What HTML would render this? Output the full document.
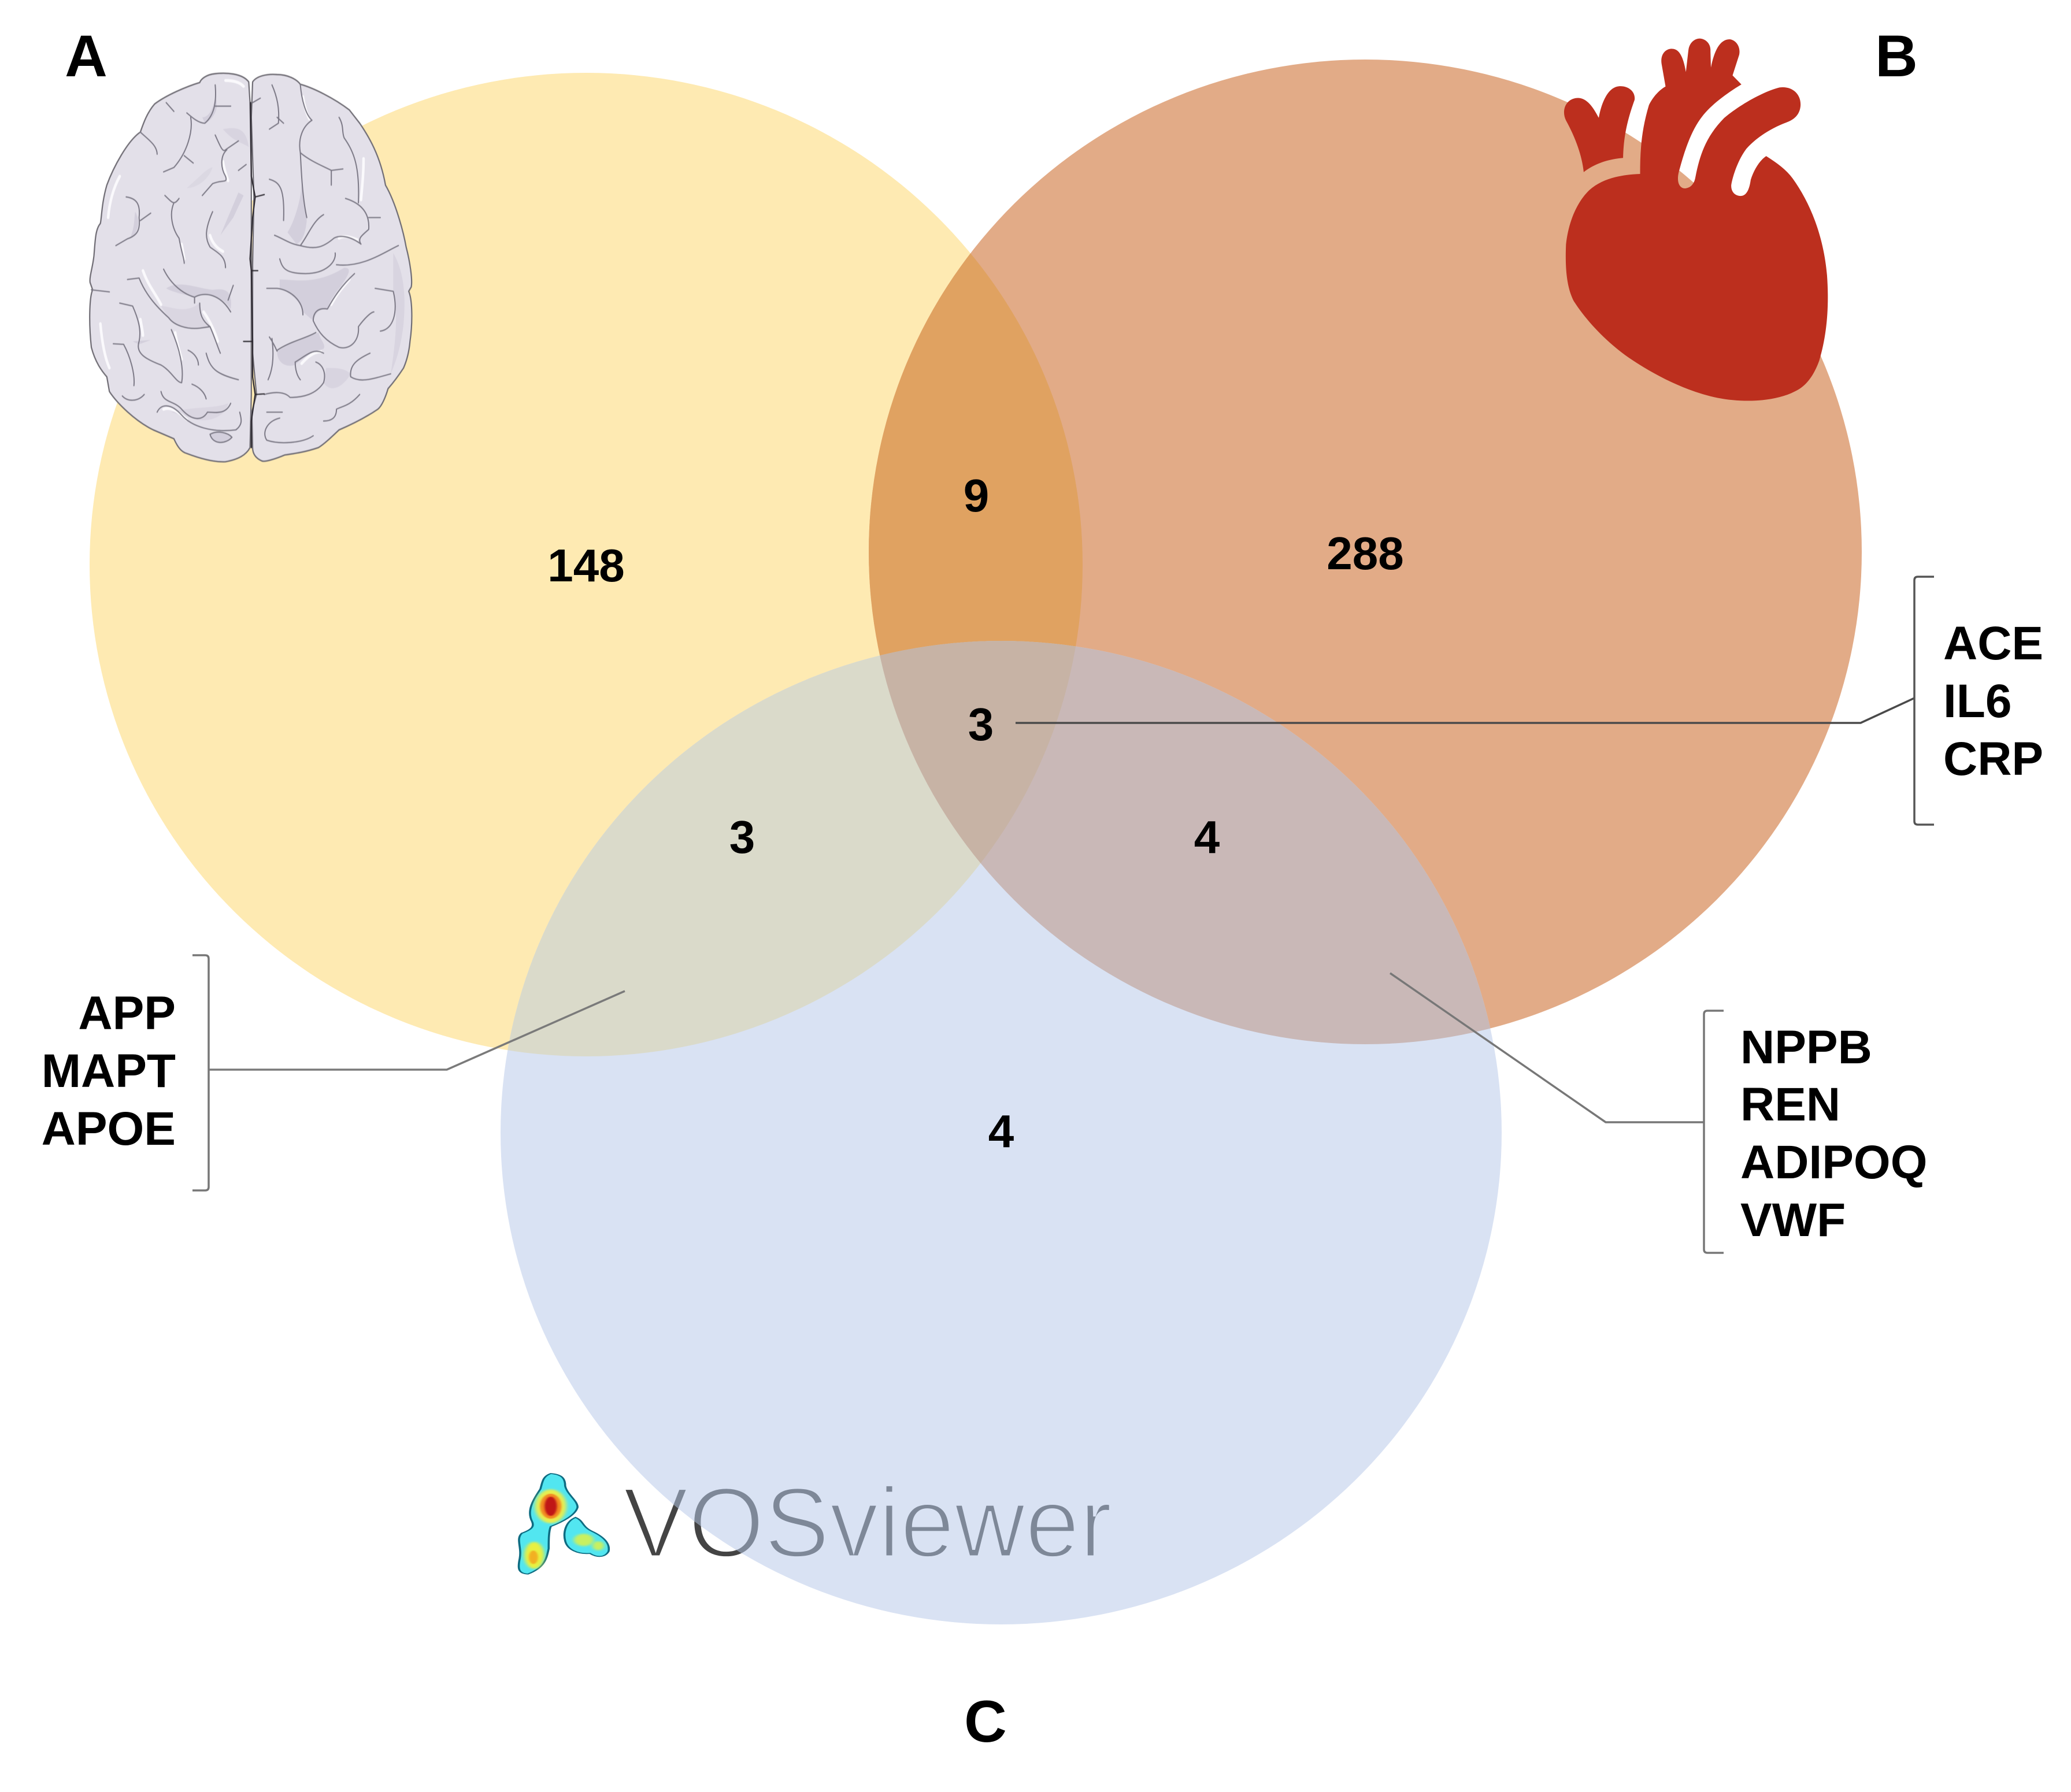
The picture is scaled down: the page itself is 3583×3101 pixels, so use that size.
<!DOCTYPE html>
<html><head><meta charset="utf-8"><style>
html,body{margin:0;padding:0;background:#fff}
svg{display:block}
text{font-family:"Liberation Sans",Arial,sans-serif}
.n{font-weight:700;font-size:80px;text-anchor:middle;fill:#000}
.l{font-weight:700;font-size:82px;fill:#000}
.h{font-weight:700;font-size:102px;text-anchor:middle;fill:#000}
.v{font-size:172px}
</style></head><body>
<svg width="3583" height="3101" viewBox="0 0 3583 3101" xmlns="http://www.w3.org/2000/svg">
<defs>
<clipPath id="ca"><ellipse cx="1014" cy="977" rx="859" ry="851"/></clipPath>
<clipPath id="cb"><ellipse cx="2362" cy="955" rx="859" ry="852"/></clipPath>
<clipPath id="cc"><ellipse cx="1732" cy="1960" rx="866" ry="851"/></clipPath>
<filter id="b1" x="-50%" y="-50%" width="200%" height="200%"><feGaussianBlur stdDeviation="5"/></filter>
<filter id="b2" x="-50%" y="-50%" width="200%" height="200%"><feGaussianBlur stdDeviation="2.5"/></filter>
<filter id="b0" x="-10%" y="-10%" width="120%" height="120%"><feGaussianBlur stdDeviation="0.8"/></filter>
</defs>
<rect width="3583" height="3101" fill="#fff"/>

<!-- VOSviewer word underneath the circle -->
<text class="v" x="1078" y="2694" textLength="846" lengthAdjust="spacingAndGlyphs" fill="#444" stroke="#fff" stroke-width="5">VOSviewer</text>

<!-- Venn circles -->
<ellipse cx="1014" cy="977" rx="859" ry="851" fill="#FEEAB2"/>
<ellipse cx="2362" cy="955" rx="859" ry="852" fill="#E2AB87"/>
<ellipse cx="1732" cy="1960" rx="866" ry="851" fill="#D9E2F3"/>
<g clip-path="url(#ca)"><ellipse cx="2362" cy="955" rx="859" ry="852" fill="#E0A261"/></g>
<g clip-path="url(#ca)"><ellipse cx="1732" cy="1960" rx="866" ry="851" fill="#DADACA"/></g>
<g clip-path="url(#cb)"><ellipse cx="1732" cy="1960" rx="866" ry="851" fill="#C9B8B7"/></g>
<g clip-path="url(#ca)"><g clip-path="url(#cb)"><ellipse cx="1732" cy="1960" rx="866" ry="851" fill="#C7B3A5"/></g></g>

<!-- VOSviewer word seen through circle -->
<g clip-path="url(#cc)"><text class="v" x="1078" y="2694" textLength="846" lengthAdjust="spacingAndGlyphs" fill="#7E8898" stroke="#D9E2F3" stroke-width="5">VOSviewer</text></g>

<!-- VOSviewer logo -->
<g transform="translate(860 2500) scale(.714 .333)">
<path d="M130,150 C160,155 165,180 165,215 C170,260 195,290 195,325 C190,365 160,400 130,425 C125,450 125,500 125,540 C120,590 115,640 75,672 C50,670 50,640 55,590 C60,530 45,490 60,460 C85,440 90,425 85,400 C70,340 90,280 105,230 C110,195 110,165 130,150 Z" fill="#52E6F0" stroke="#0E6C82" stroke-width="5"/>
<path d="M190,378 C210,395 205,425 230,450 C255,475 275,510 270,555 C260,590 240,585 225,565 C195,570 170,545 165,500 C160,460 165,400 190,378 Z" fill="#52E6F0" stroke="#0E6C82" stroke-width="5"/>
<ellipse cx="130" cy="320" rx="38" ry="88" fill="#E8EE50" filter="url(#b1)"/>
<ellipse cx="130" cy="320" rx="26" ry="65" fill="#F28A20" filter="url(#b2)"/>
<ellipse cx="130" cy="320" rx="15" ry="50" fill="#C01818" filter="url(#b2)"/>
<ellipse cx="90" cy="575" rx="24" ry="70" fill="#E8F040" filter="url(#b1)"/>
<ellipse cx="88" cy="585" rx="11" ry="35" fill="#F2B020" filter="url(#b2)"/>
<ellipse cx="210" cy="495" rx="24" ry="32" fill="#C8F060" filter="url(#b1)"/>
<ellipse cx="245" cy="525" rx="14" ry="24" fill="#C8F060" filter="url(#b1)"/>
</g>

<!-- Brain -->
<g transform="translate(100 50) scale(.4464 .5102)" stroke-linecap="round" stroke-linejoin="round" filter="url(#b0)">
<path d="M740,180 C715,150 650,148 610,152 C575,155 555,170 550,182 C500,195 420,225 375,255 C345,285 330,325 320,350 C270,380 215,470 190,530 C170,590 170,640 165,660 C145,680 145,720 140,770 C135,810 122,840 125,860 L135,885 C122,910 120,1000 130,1080 C145,1130 170,1160 190,1180 L200,1230 C230,1270 300,1330 370,1360 L450,1390 C465,1420 480,1435 500,1440 C560,1460 610,1470 650,1468 C700,1460 730,1445 745,1420 L750,1240 L750,500 L745,250 Z" fill="#E3E0E9" stroke="#6f6d75" stroke-width="5"/>
<path d="M755,180 C770,160 810,152 850,155 C890,155 925,170 940,188 C990,200 1070,235 1130,275 L1170,320 C1205,365 1250,430 1270,530 C1310,590 1340,690 1350,740 C1365,790 1375,850 1370,875 L1360,890 C1375,920 1375,1000 1365,1060 C1360,1110 1345,1140 1340,1150 C1310,1190 1290,1210 1280,1220 C1270,1250 1255,1280 1240,1290 C1190,1320 1130,1345 1090,1360 C1060,1385 1030,1410 1010,1420 C960,1435 920,1440 880,1445 C840,1460 800,1470 790,1465 C765,1455 755,1440 755,1420 L752,1300 L770,1240 L755,1100 L755,800 L760,570 L750,300 Z" fill="#E3E0E9" stroke="#6f6d75" stroke-width="5"/>
<!-- shading -->
<g fill="#D3CFDC" stroke="none">
<path d="M420,880 C470,850 540,880 600,885 C640,880 680,880 670,950 C630,900 570,890 530,910 C490,900 450,895 420,880Z"/>
<path d="M560,300 C590,300 605,260 610,230 C630,270 600,310 570,320 Z"/>
<path d="M860,850 C920,850 1000,870 1110,810 C1140,810 1130,830 1100,870 C1070,900 1050,930 1045,950 C1020,945 1000,960 990,990 L950,960 C940,920 890,890 860,880Z"/>
<path d="M850,1095 C900,1060 960,1050 1010,1030 C1020,1060 1040,1070 1030,1085 C980,1100 940,1120 920,1140 C880,1150 850,1130 850,1095Z"/>
<path d="M890,690 C920,650 950,560 945,500 C950,550 960,600 965,650 C960,690 950,720 925,730Z"/>
<path d="M290,1060 L360,1055 L315,1070 Z"/>
<path d="M630,700 L700,555 L720,565 L680,640 Z"/>
<path d="M590,1375 C620,1360 660,1370 675,1385 C650,1410 600,1410 590,1375Z"/>
<path d="M430,980 C450,1005 500,1020 550,1015 L590,1010 C560,990 545,980 550,930 C490,970 440,940 400,940Z" opacity=".6"/>
<path d="M1040,1150 C1080,1150 1110,1150 1135,1170 C1110,1210 1060,1240 1030,1200Z" opacity=".7"/>
<path d="M1300,760 C1340,820 1350,900 1340,1000 C1330,1080 1310,1130 1290,1170 C1310,1060 1320,960 1300,890Z" opacity=".7"/>
<path d="M300,620 C320,650 315,690 280,710 C300,670 295,640 300,620Z"/>
<path d="M600,470 C580,520 530,540 500,540 C540,510 580,470 600,470Z" opacity=".5"/>
<path d="M640,340 C700,330 730,340 740,400 C700,380 680,380 640,340Z" opacity=".7"/>
<path d="M440,1300 C520,1280 600,1290 660,1270 C650,1320 570,1340 520,1320Z" opacity=".6"/>
</g>
<!-- highlights -->
<g fill="none" stroke="#FAF9FC" stroke-width="10">
<path d="M330,820 C350,870 380,900 400,935"/>
<path d="M590,700 C600,730 620,745 640,755"/>
<path d="M320,985 C325,1010 330,1030 330,1040"/>
<path d="M455,1030 C460,1060 470,1090 480,1120"/>
<path d="M480,730 L490,780"/>
<path d="M565,960 C590,990 610,1030 620,1060"/>
<path d="M1185,440 C1185,490 1180,530 1175,580"/>
<path d="M1090,710 C1110,700 1130,705 1160,715"/>
<path d="M1060,935 C1080,900 1110,870 1130,850"/>
<path d="M410,1290 C440,1280 470,1300 500,1325"/>
<path d="M945,1135 C965,1115 990,1095 1020,1095"/>
<path d="M640,450 C645,480 655,500 660,515"/>
<path d="M165,1000 C170,1050 180,1110 200,1150"/>
<path d="M240,500 C215,540 200,590 195,640"/>
<path d="M650,175 C680,175 705,180 720,195"/>
<path d="M950,230 C955,260 965,290 975,305"/>
</g>
<!-- sulci -->
<g fill="none" stroke="#7c7986" stroke-width="4.5">
<path d="M610,190 C615,240 610,290 570,320 C545,320 520,300 500,285"/><path d="M610,262 L670,262"/>
<path d="M515,300 C525,350 500,420 450,470 L410,485"/><path d="M490,430 L525,455"/>
<path d="M420,250 L450,280"/><path d="M320,350 C350,375 385,395 385,425"/>
<path d="M610,360 C630,400 640,420 650,410 L700,380"/><path d="M655,410 C630,430 630,470 650,500 C660,525 640,510 600,525 L560,565"/><path d="M700,480 L730,460"/>
<path d="M265,570 C310,575 320,600 315,640 C320,680 310,700 270,712 L225,735"/><path d="M320,650 L360,625"/>
<path d="M415,565 C445,590 450,600 470,575"/><path d="M450,590 C430,630 445,680 470,710 C480,760 490,780 490,795"/>
<path d="M600,620 C570,680 570,710 590,740 C620,760 650,770 650,810"/>
<path d="M270,850 L315,845 C340,900 380,940 430,980 C450,1005 500,1020 550,1015 L590,1010 C610,1050 620,1080 630,1100"/>
<path d="M410,815 C440,870 490,900 530,910 L530,930"/><path d="M530,910 C570,890 630,900 670,960"/><path d="M660,920 L680,870"/>
<path d="M550,930 C550,970 560,990 590,1010"/>
<path d="M130,885 L200,892"/><path d="M240,930 L290,940 C310,980 325,1020 315,1060 C300,1100 340,1120 400,1140 C440,1160 460,1200 480,1200 C490,1150 470,1080 440,1020"/>
<path d="M215,1068 L255,1070 C280,1110 300,1170 295,1210"/>
<path d="M505,1090 C530,1100 545,1120 545,1140"/><path d="M575,1100 C590,1150 610,1170 700,1190"/>
<path d="M250,1245 C270,1265 310,1265 335,1240"/><path d="M400,1230 C410,1270 450,1260 480,1290 C520,1330 560,1330 580,1300 C610,1300 650,1310 670,1270"/>
<path d="M385,1300 C400,1270 440,1270 480,1310 C520,1350 600,1370 690,1360 C720,1340 710,1320 705,1300"/>
<path d="M520,1205 C550,1215 570,1235 575,1255"/>
<path d="M590,1375 C620,1360 660,1370 675,1385 C650,1410 600,1410 590,1375"/>
<path d="M830,190 C850,230 860,270 855,320 L820,340"/><path d="M850,300 L875,320"/>
<path d="M755,250 L785,235"/>
<path d="M940,190 C945,240 960,290 985,310 C950,330 930,370 940,420 C980,450 1040,470 1060,480 L1105,475"/><path d="M1060,480 L1060,530"/>
<path d="M1090,300 C1110,330 1100,350 1110,370 C1150,420 1170,470 1165,590"/>
<path d="M1115,575 C1170,590 1210,620 1205,680 C1180,700 1160,710 1175,730 C1130,700 1090,700 1070,710 C1030,740 1000,750 940,735 C900,730 870,710 840,700"/>
<path d="M1205,640 L1250,640"/><path d="M1030,630 C990,650 970,700 940,735"/>
<path d="M820,510 C860,520 880,540 875,650"/><path d="M940,420 C945,510 950,580 965,640"/>
<path d="M860,780 C870,810 880,830 960,830 C1040,830 1080,790 1075,760"/><path d="M1080,800 C1180,810 1260,760 1320,735"/>
<path d="M810,880 L850,880 C900,885 950,920 950,970"/>
<path d="M1150,830 C1100,870 1070,910 1045,950 C1010,945 990,960 990,990 C1010,1030 1040,1060 1090,1080 C1130,1090 1170,1060 1165,1010 C1190,980 1215,960 1225,960"/>
<path d="M1250,1025 C1300,1020 1320,960 1300,890 L1230,880"/>
<path d="M820,1045 C850,1085 850,1100 850,1090 C900,1060 960,1050 1000,1030"/><path d="M830,1050 C840,1120 830,1160 815,1190"/>
<path d="M920,1130 C960,1110 990,1080 1030,1100"/><path d="M920,1130 C920,1160 930,1180 940,1190"/>
<path d="M1000,1130 C1030,1140 1040,1170 1030,1200 C1000,1240 950,1250 900,1250 C880,1230 840,1230 800,1240"/>
<path d="M1210,1100 C1160,1120 1130,1140 1135,1180 C1170,1200 1210,1190 1290,1170"/>
<path d="M1170,1240 C1130,1280 1100,1280 1080,1290 C1080,1320 1060,1330 1030,1330"/>
<path d="M870,1300 L810,1300"/><path d="M860,1320 C810,1330 790,1370 810,1395 C860,1410 950,1405 990,1380"/>
</g>
<!-- central fissure -->
<path d="M747,250 L750,500 L765,570 L800,562 M765,570 L755,640 L745,780 L750,820 L775,820 M750,820 L755,1060 L720,1060 M755,1060 L755,1180 L765,1240 L800,1238 M765,1240 L750,1330 L750,1420" fill="none" stroke="#2e2c33" stroke-width="5"/>
</g>

<!-- Heart -->
<g transform="translate(2650 30) scale(.3827 .4464)" fill="#BC2F1E">
<path d="M490,607 C490,520 495,440 530,340 C550,305 580,280 605,268 L587,180 C580,140 610,120 635,122 C665,122 685,150 697,212 L708,130 C712,95 740,82 760,82 C790,84 810,105 808,130 L810,195 C825,130 850,85 895,85 C925,88 945,115 938,145 L908,225 L948,260 C880,295 810,340 770,385 C720,440 690,520 668,590 C650,640 670,665 695,663 C720,660 735,645 740,620 C760,530 790,460 870,390 C940,340 1040,290 1120,272 C1180,265 1220,300 1215,345 C1210,385 1175,400 1150,408 C1080,430 1010,470 970,510 C935,550 910,610 902,650 C900,680 925,695 950,692 C975,688 985,660 990,630 C1005,590 1030,555 1060,538 C1110,565 1150,590 1180,625 C1260,720 1320,850 1335,1000 C1345,1120 1335,1230 1300,1330 C1275,1390 1240,1430 1190,1450 C1100,1490 960,1495 840,1475 C700,1450 560,1390 440,1320 C340,1260 250,1180 190,1100 C160,1050 150,980 155,880 C165,800 200,720 260,670 C320,625 400,610 490,607 Z"/>
<path d="M235,600 C228,540 200,470 155,400 C135,365 150,325 190,315 C230,305 265,325 303,390 C315,330 345,270 395,267 C440,265 470,290 465,320 C440,380 415,450 413,545 C340,550 280,570 235,600 Z"/>
</g>

<!-- Connectors -->
<g fill="none" stroke-linejoin="round">
<path d="M1757,1251 L3219,1251 L3312,1208" stroke="#4a4a4a" stroke-width="3.5"/>
<path d="M3346,998 L3318,998 Q3312,998 3312,1004 L3312,1421 Q3312,1427 3318,1427 L3346,1427" stroke="#555" stroke-width="3.5"/>
<path d="M2405,1684 L2778,1942 L2948,1942" stroke="#777" stroke-width="3.5"/>
<path d="M2982,1749 L2954,1749 Q2948,1749 2948,1755 L2948,2162 Q2948,2168 2954,2168 L2982,2168" stroke="#777" stroke-width="3.5"/>
<path d="M1081,1715 L773,1851 L361,1851" stroke="#7a7a7a" stroke-width="3.5"/>
<path d="M333,1653 L355,1653 Q361,1653 361,1659 L361,2054 Q361,2060 355,2060 L333,2060" stroke="#777" stroke-width="3.5"/>
</g>

<!-- Numbers -->
<text class="n" x="1014" y="1006">148</text>
<text class="n" x="2362" y="985">288</text>
<text class="n" x="1689" y="885">9</text>
<text class="n" x="1697" y="1281">3</text>
<text class="n" x="1284" y="1476">3</text>
<text class="n" x="2088" y="1476">4</text>
<text class="n" x="1732" y="1985">4</text>

<!-- Panel letters -->
<text class="h" x="149" y="132">A</text>
<text class="h" x="3281" y="132">B</text>
<text class="h" x="1705" y="3014">C</text>

<!-- Gene labels -->
<text class="l" x="3362" y="1141">ACE</text>
<text class="l" x="3362" y="1241">IL6</text>
<text class="l" x="3362" y="1341">CRP</text>
<text class="l" x="3011" y="1840">NPPB</text>
<text class="l" x="3011" y="1939">REN</text>
<text class="l" x="3011" y="2039">ADIPOQ</text>
<text class="l" x="3011" y="2139">VWF</text>
<text class="l" x="304" y="1781" text-anchor="end">APP</text>
<text class="l" x="304" y="1881" text-anchor="end">MAPT</text>
<text class="l" x="304" y="1981" text-anchor="end">APOE</text>
</svg>
</body></html>
